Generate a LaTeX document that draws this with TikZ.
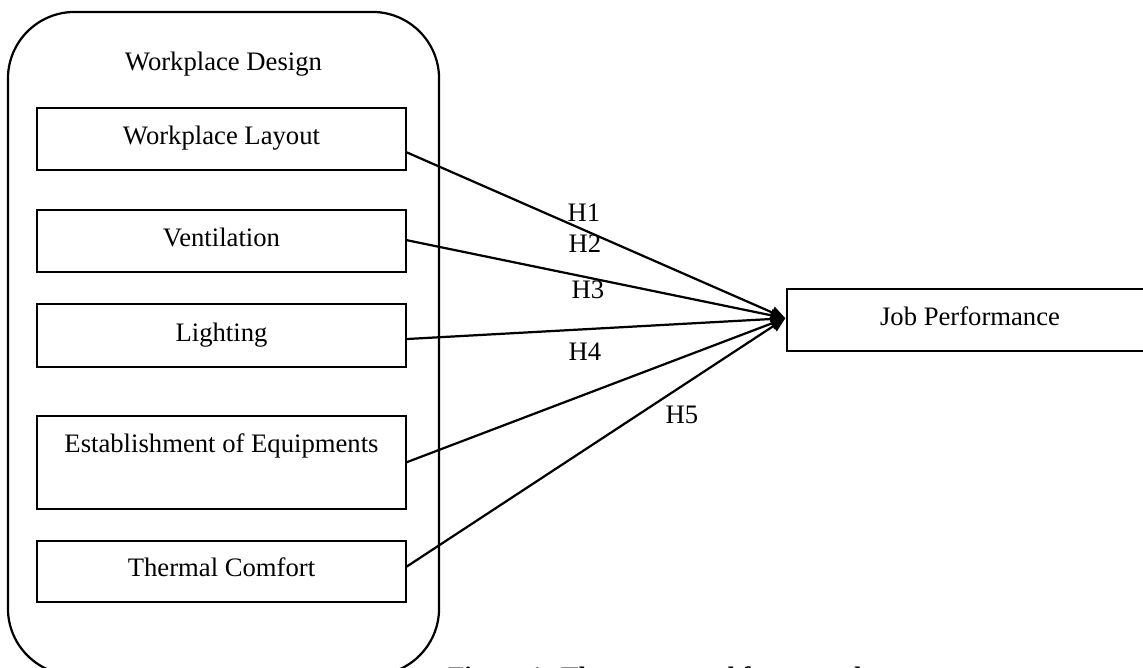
\documentclass[tikz,border=0pt]{standalone}
\usepackage{fontspec}
\setmainfont{Liberation Serif}
\usetikzlibrary{arrows.meta}
\begin{document}
\begin{tikzpicture}[x=0.45pt,y=-0.45pt,
  every node/.style={font=\fontsize{12}{14}\selectfont, inner sep=0pt, outer sep=0pt},
  frame/.style={draw, line width=1pt, rounded corners=30pt},
  factor/.style={draw, line width=1pt, minimum width=166pt},
  label/.style={anchor=base},
  link/.style={line width=1pt, -{Triangle[length=6.5pt,width=5.5pt]}}]
\useasboundingbox (0,0) rectangle (1143,667);

% outer group
\node[frame, minimum width=194pt, minimum height=298.4pt] (wd) at (223.5,343.5) {};
\node[label] (wdt) at (223.5,70) {Workplace Design};

% factor boxes
\node[factor, minimum height=27.9pt] (lay) at (221.5,139) {};
\node[factor, minimum height=27.9pt] (ven) at (221.5,241) {};
\node[factor, minimum height=28.3pt] (lig) at (221.5,335.5) {};
\node[factor, minimum height=41.8pt] (est) at (221.5,462.5) {};
\node[factor, minimum height=27.5pt] (the) at (221.5,571.5) {};

\node[label] (layt) at (221.5,144) {Workplace Layout};
\node[label] (vent) at (221.5,246) {Ventilation};
\node[label] (ligt) at (221.5,341) {Lighting};
\node[label] (estt) at (221.5,452) {Establishment of Equipments};
\node[label] (thet) at (221.5,576) {Thermal Comfort};

% outcome box
\node[draw, line width=1pt, minimum width=165pt, minimum height=27.9pt] (jp) at (970,320) {};
\node[label] (jpt) at (970,325) {Job Performance};

% hypothesised paths
\coordinate (tip) at ([xshift=-0.6pt,yshift=0.8pt]jp.west);
\draw[link] ([yshift=-5.85pt]lay.east) -- (tip);
\draw[link] ([yshift=0.45pt]ven.east) -- (tip);
\draw[link] ([yshift=-1.6pt]lig.east) -- (tip);
\draw[link] (est.east) -- (tip);
\draw[link] ([yshift=2pt]the.east) -- (tip);

\node[label] (h1) at (584,221) {H1};
\node[label] (h2) at (585,252) {H2};
\node[label] (h3) at (588,298) {H3};
\node[label] (h4) at (585,360) {H4};
\node[label] (h5) at (682,423) {H5};

% caption, running past the lower edge
\node[anchor=base west, font=\fontsize{12}{14}\selectfont\bfseries] (cap) at (448,685) {Figure 1: The conceptual framework};
\end{tikzpicture}
\end{document}
